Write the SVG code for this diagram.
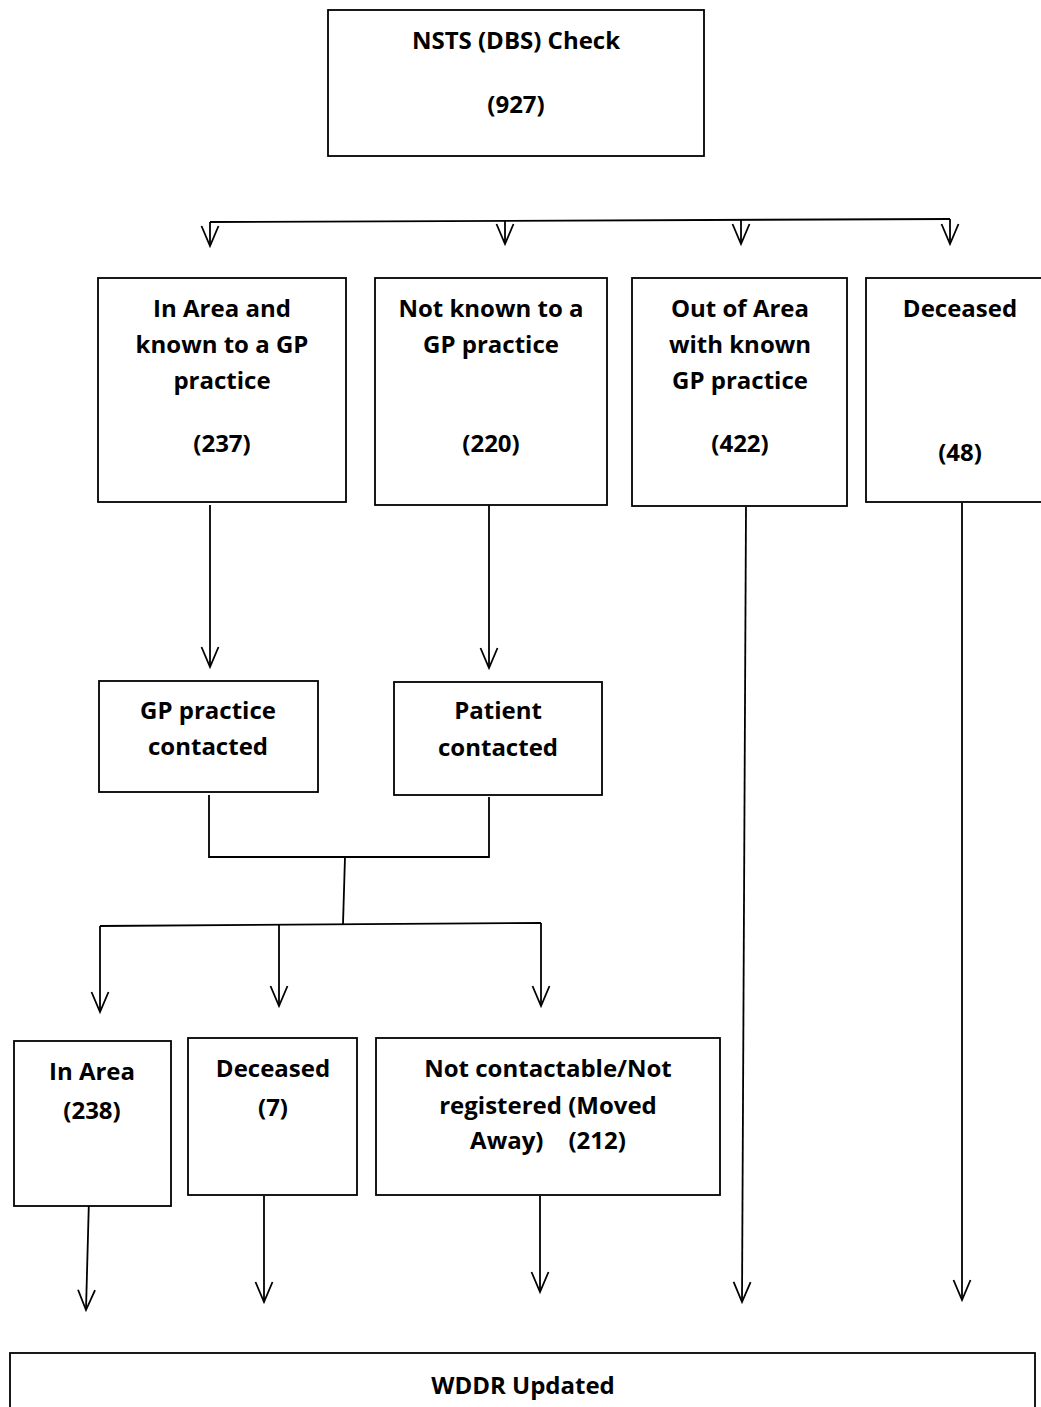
<svg xmlns="http://www.w3.org/2000/svg" width="1041" height="1407" viewBox="0 0 1041 1407">
  <style>
    .box { fill: #fff; stroke: #000; stroke-width: 1.8; }
    .lbl { font-family: "Open Sans", Lato, "Liberation Sans", sans-serif; font-weight: 700; font-size: 24px; fill: #000; text-anchor: middle; }
    .wire { fill: none; stroke: #000; stroke-width: 1.8; }
    .arrow { fill: none; stroke: #000; stroke-width: 1.8; marker-end: url(#vee); }
  </style>
  <defs>
    <!-- open chevron arrowhead -->
    <marker id="vee" markerUnits="userSpaceOnUse" markerWidth="30" markerHeight="30" viewBox="-25 -15 30 30" refX="0" refY="0" orient="auto" overflow="visible">
      <path d="M-20,-8.5 L0,0 L-20,8.5" fill="none" stroke="#000" stroke-width="1.8"/>
    </marker>
  </defs>
  <rect width="1041" height="1407" fill="#fff"/>

  <g id="connectors">
    <!-- split from the check into four outcomes -->
    <path class="wire" d="M210,222 L950,219"/>
    <path class="arrow" d="M210,222 L210,246"/>
    <path class="arrow" d="M505,221 L505,244"/>
    <path class="arrow" d="M741,220 L741,244"/>
    <path class="arrow" d="M950,219 L950,244"/>
    <!-- follow-up contact -->
    <path class="arrow" d="M210,505 L210,667"/>
    <path class="arrow" d="M489,505 L489,668"/>
    <!-- merge of contact results -->
    <path class="wire" d="M209,795 L209,857 L489,857 L489,797"/>
    <path class="wire" d="M345,857 L343,924"/>
    <path class="wire" d="M100,926 L541,923"/>
    <path class="arrow" d="M100,926 L100,1012"/>
    <path class="arrow" d="M279,925 L279,1006"/>
    <path class="arrow" d="M541,923 L541,1006"/>
    <!-- into the register update -->
    <path class="arrow" d="M89,1198 L86,1310"/>
    <path class="arrow" d="M264,1196 L264,1302"/>
    <path class="arrow" d="M540,1196 L540,1292"/>
    <path class="arrow" d="M746,507 L742,1302"/>
    <path class="arrow" d="M962,503 L962,1300"/>
  </g>

  <g id="check">
    <rect class="box" x="328" y="10" width="376" height="146"/>
    <text class="lbl" x="516" y="49">NSTS (DBS) Check</text>
    <text class="lbl" x="516" y="113">(927)</text>
  </g>

  <g id="in-area-known">
    <rect class="box" x="98" y="278" width="248" height="224"/>
    <text class="lbl" x="222" y="317">In Area and</text>
    <text class="lbl" x="222" y="353">known to a GP</text>
    <text class="lbl" x="222" y="389">practice</text>
    <text class="lbl" x="222" y="452">(237)</text>
  </g>

  <g id="not-known">
    <rect class="box" x="375" y="278" width="232" height="227"/>
    <text class="lbl" x="491" y="317">Not known to a</text>
    <text class="lbl" x="491" y="353">GP practice</text>
    <text class="lbl" x="491" y="452">(220)</text>
  </g>

  <g id="out-of-area">
    <rect class="box" x="632" y="278" width="215" height="228"/>
    <text class="lbl" x="740" y="317">Out of Area</text>
    <text class="lbl" x="740" y="353">with known</text>
    <text class="lbl" x="740" y="389">GP practice</text>
    <text class="lbl" x="740" y="452">(422)</text>
  </g>

  <g id="deceased-top">
    <rect class="box" x="866" y="278" width="180" height="224"/>
    <text class="lbl" x="960" y="317">Deceased</text>
    <text class="lbl" x="960" y="461">(48)</text>
  </g>

  <g id="gp-contacted">
    <rect class="box" x="99" y="681" width="219" height="111"/>
    <text class="lbl" x="208" y="719">GP practice</text>
    <text class="lbl" x="208" y="755">contacted</text>
  </g>

  <g id="patient-contacted">
    <rect class="box" x="394" y="682" width="208" height="113"/>
    <text class="lbl" x="498" y="719">Patient</text>
    <text class="lbl" x="498" y="756">contacted</text>
  </g>

  <g id="in-area">
    <rect class="box" x="14" y="1041" width="157" height="165"/>
    <text class="lbl" x="92" y="1080">In Area</text>
    <text class="lbl" x="92" y="1119">(238)</text>
  </g>

  <g id="deceased-contact">
    <rect class="box" x="188" y="1038" width="169" height="157"/>
    <text class="lbl" x="273" y="1077">Deceased</text>
    <text class="lbl" x="273" y="1116">(7)</text>
  </g>

  <g id="not-contactable">
    <rect class="box" x="376" y="1038" width="344" height="157"/>
    <text class="lbl" x="548" y="1077">Not contactable/Not</text>
    <text class="lbl" x="548" y="1114">registered (Moved</text>
    <text class="lbl" x="548" y="1149" xml:space="preserve">Away)    (212)</text>
  </g>

  <g id="wddr">
    <rect class="box" x="10" y="1353" width="1025" height="70"/>
    <text class="lbl" x="523" y="1394">WDDR Updated</text>
  </g>
</svg>
